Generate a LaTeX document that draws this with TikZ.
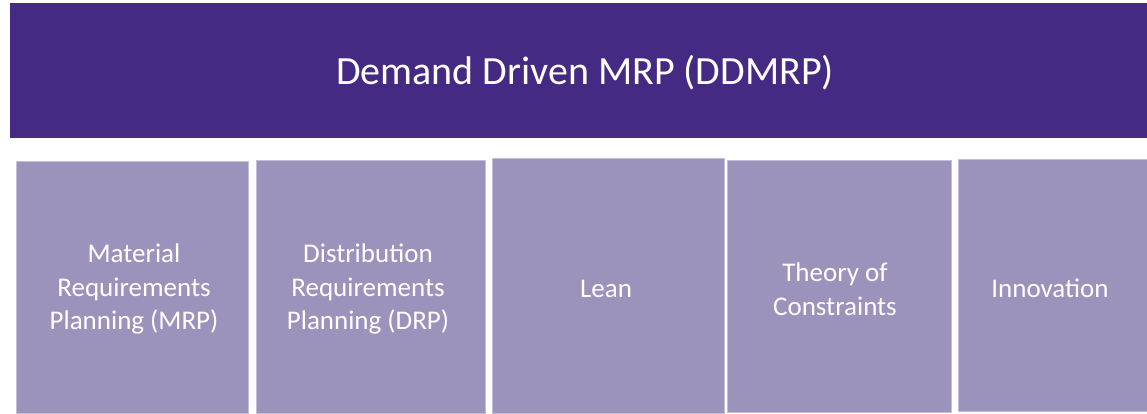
\documentclass[tikz,border=0pt]{standalone}
\usepackage{fontspec}
\setmainfont{Carlito}
\definecolor{dark}{HTML}{442A82}
\definecolor{light}{HTML}{9B93BB}
\definecolor{edge}{HTML}{C4BFD9}
\begin{document}
\begin{tikzpicture}[x=1pt,y=-1pt,
  col/.style={fill=light,draw=edge,line width=0.8pt},
  lab/.style={text=white,align=center,font=\fontsize{27}{33.5}\selectfont}]
\useasboundingbox (0,0) rectangle (1147,413);
\fill[white] (0,0) rectangle (1147,413);
\fill[dark] (10,3) rectangle (1147,138);
\node[text=white,font=\fontsize{40}{46}\selectfont] (title) at (585,73) {Demand Driven MRP (DDMRP)};
\draw[col] (16,161) rectangle (248,413);
\node[lab] (mrp) at (134,289) {Material\\Requirements\\Planning (MRP)};
\draw[col] (256,160) rectangle (485,413);
\node[lab] (drp) at (368,289) {Distribution\\Requirements\\Planning (DRP)};
\draw[col] (492,158) rectangle (724,413);
\node[lab] (lean) at (606,289) {Lean};
\draw[col] (727,160) rectangle (951,412);
\node[lab] (toc) at (835,289) {Theory of\\Constraints};
\draw[col] (958,159) rectangle (1150,411);
\node[lab] (inn) at (1050,288) {Innovation};
\end{tikzpicture}
\end{document}
